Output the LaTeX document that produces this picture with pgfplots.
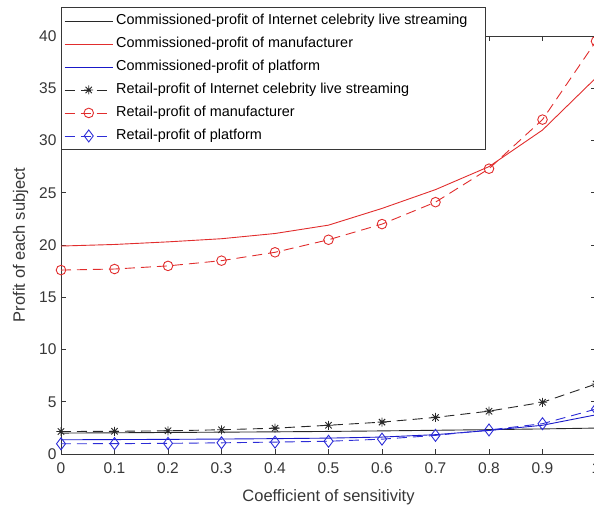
\documentclass[border=0pt]{standalone}
\usepackage{pgfplots}
\pgfplotsset{compat=1.18}
\usepackage{fontspec}
\setmainfont{Liberation Sans}
\definecolor{mred}{RGB}{225,45,45}
\definecolor{mblue}{RGB}{25,25,200}
\definecolor{mblue2}{RGB}{45,45,215}
\definecolor{mblack}{RGB}{40,40,40}
\definecolor{axgray}{RGB}{55,55,55}
\pgfdeclareplotmark{mstar}{%
 \pgfpathmoveto{\pgfqpoint{0pt}{\pgfplotmarksize}}\pgfpathlineto{\pgfqpoint{0pt}{-\pgfplotmarksize}}%
 \pgfpathmoveto{\pgfqpoint{\pgfplotmarksize}{0pt}}\pgfpathlineto{\pgfqpoint{-\pgfplotmarksize}{0pt}}%
 \pgfpathmoveto{\pgfqpoint{.707\pgfplotmarksize}{.707\pgfplotmarksize}}\pgfpathlineto{\pgfqpoint{-.707\pgfplotmarksize}{-.707\pgfplotmarksize}}%
 \pgfpathmoveto{\pgfqpoint{-.707\pgfplotmarksize}{.707\pgfplotmarksize}}\pgfpathlineto{\pgfqpoint{.707\pgfplotmarksize}{-.707\pgfplotmarksize}}%
 \pgfusepathqstroke}
\pgfplotstableread{
x    cicls crm  cplat ricls rman rplat
0    2.00  19.9  1.36  2.15  17.6  0.98
0.1  2.03  20.05 1.38  2.17  17.7  0.99
0.2  2.06  20.3  1.40  2.22  18.0  1.02
0.3  2.09  20.6  1.43  2.32  18.5  1.07
0.4  2.12  21.1  1.47  2.47  19.3  1.14
0.5  2.16  21.9  1.52  2.75  20.5  1.22
0.6  2.21  23.5  1.62  3.05  22.0  1.42
0.7  2.27  25.3  1.85  3.50  24.1  1.78
0.8  2.33  27.5  2.25  4.10  27.3  2.30
0.9  2.40  31.0  2.75  4.95  32.0  2.90
1.0  2.48  36.0  3.75  6.70  39.5  4.30
}\data
\begin{document}
\begin{tikzpicture}
\begin{axis}[
 name=ax,
 scale only axis, width=535pt, height=418pt,
 xmin=0, xmax=1, ymin=0, ymax=40,
 xtick={0,0.1,0.2,0.3,0.4,0.5,0.6,0.7,0.8,0.9,1},
 ytick={0,5,10,15,20,25,30,35,40},
 tick align=inside, major tick length=5pt,
 axis line style={axgray}, tick style={axgray, line width=0.6pt},
 /pgf/number format/assume math mode=true,
 ticklabel style={font=\fontsize{15.5}{18}\selectfont, text=axgray},
 xticklabel style={yshift=-5pt},
 yticklabel style={xshift=-1pt},
 xlabel={Coefficient of sensitivity},
 ylabel={Profit of each subject},
 label style={font=\fontsize{16.5}{20}\selectfont, text=axgray},
 xlabel style={yshift=-9pt},
 ylabel style={yshift=4pt},
 legend cell align=left,
 legend style={at={(0,1.069)}, anchor=north west, draw=axgray, line width=0.6pt,
   font=\fontsize{14.4}{16}\selectfont, inner xsep=3pt, inner ysep=2pt,
   nodes={inner ysep=4.5pt, inner xsep=3pt, text height=10.5pt, text depth=3.5pt}},
 legend image code/.code={\draw[mark repeat=2,mark phase=2,#1] plot coordinates {(0pt,0pt) (24pt,0pt) (48pt,0pt)};},
 every axis plot/.append style={line width=0.9pt},
]
\addplot[mblack, no marks] table[x=x,y=cicls]{\data};
\addlegendentry{Commissioned-profit of Internet celebrity live streaming\rule{12pt}{0pt}}
\addplot[mred, no marks] table[x=x,y=crm]{\data};
\addlegendentry{Commissioned-profit of manufacturer}
\addplot[mblue, no marks] table[x=x,y=cplat]{\data};
\addlegendentry{Commissioned-profit of platform}
\addplot[mblack, dash pattern=on 10pt off 6pt, mark=mstar, mark size=4.5pt, mark options={solid}] table[x=x,y=ricls]{\data};
\addlegendentry{Retail-profit of Internet celebrity live streaming}
\addplot[mred, dash pattern=on 10pt off 6pt, mark=o, mark size=4.8pt, mark options={solid}] table[x=x,y=rman]{\data};
\addlegendentry{Retail-profit of manufacturer}
\addplot[mblue2, dash pattern=on 10pt off 6pt, mark=diamond, mark size=6pt, mark options={solid}] table[x=x,y=rplat]{\data};
\addlegendentry{Retail-profit of platform}
\end{axis}
\pgfresetboundingbox
\path[use as bounding box] ([xshift=-61pt,yshift=-56pt]ax.south west) rectangle ([xshift=533pt,yshift=36pt]ax.north west);
\end{tikzpicture}
\end{document}
